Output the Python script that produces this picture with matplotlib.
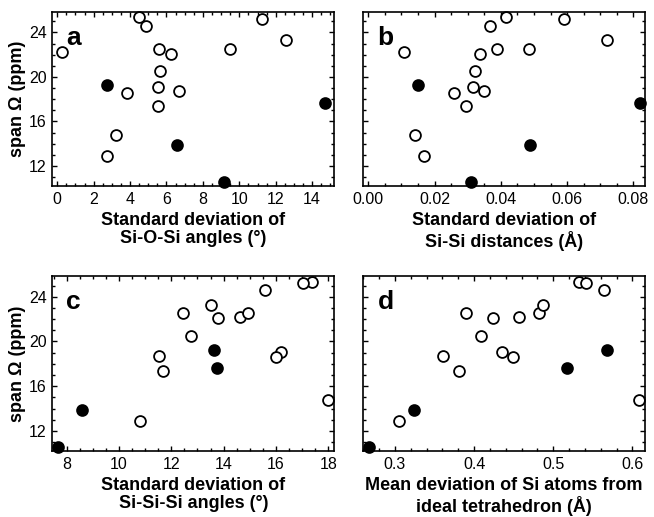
import numpy as np
import matplotlib
matplotlib.use("Agg")
import matplotlib.pyplot as plt
from matplotlib.ticker import MultipleLocator

plt.rcParams['font.family'] = ['Liberation Sans', 'DejaVu Sans']

# span values shared by all four panels
span_open = [22.2, 25.35, 24.6, 22.55, 22.07, 20.5, 19.05, 18.6, 18.72, 17.36,
             14.75, 12.86, 22.55, 25.2, 23.3]
span_fill = [19.25, 13.9, 10.6, 17.66]

# structural parameters for each panel
sio_open = [0.27, 4.5, 4.89, 5.57, 6.24, 5.66, 5.53, 3.84, 6.69, 5.53,
            3.21, 2.74, 9.48, 11.26, 12.54]
sio_fill = [2.72, 6.56, 9.17, 14.7]

sisi_open = [0.0108, 0.0415, 0.0367, 0.0387, 0.0336, 0.0323, 0.0315, 0.0259, 0.035, 0.0294,
             0.014, 0.0169, 0.0485, 0.0592, 0.0719]
sisi_fill = [0.0151, 0.0489, 0.031, 0.082]

sisisi_open = [14.63, 17.37, 15.59, 12.46, 13.77, 12.76, 16.21, 16.02, 11.53, 11.69,
               18.0, 10.8, 14.95, 17.03, 13.51]
sisisi_fill = [13.63, 8.57, 7.68, 13.74]

tet_open = [0.4564, 0.532, 0.564, 0.3894, 0.4235, 0.4087, 0.4357, 0.4496, 0.3607, 0.3806,
            0.6084, 0.3051, 0.4824, 0.5415, 0.4875]
tet_fill = [0.5676, 0.324, 0.267, 0.5178]

panels = [
    ('a', sio_open, sio_fill, (-0.27, 15.2), 2, 0.5,
     'Standard deviation of\nSi-O-Si angles (°)', '{:.0f}'),
    ('b', sisi_open, sisi_fill, (-0.0015, 0.0835), 0.02, 0.005,
     'Standard deviation of\nSi-Si distances (Å)', '{:.2f}'),
    ('c', sisisi_open, sisisi_fill, (7.45, 18.23), 2, 0.5,
     'Standard deviation of\nSi-Si-Si angles (°)', '{:.0f}'),
    ('d', tet_open, tet_fill, (0.26, 0.616), 0.1, 0.02,
     'Mean deviation of Si atoms from\nideal tetrahedron (Å)', '{:.1f}'),
]

W, H = 654, 517
fig = plt.figure(figsize=(W / 100, H / 100), dpi=100)

# axes boxes in pixels: left, top, right, bottom
boxes = [(52.3, 11.7, 334, 186), (363.3, 11.7, 645, 186),
         (52.3, 276, 334.3, 451), (363.3, 276, 645, 451)]

for (letter, xo, xf, xlim, major, minor, xlabel, fmt), (l, t, r, b) in zip(panels, boxes):
    ax = fig.add_axes([l / W, 1 - b / H, (r - l) / W, (b - t) / H])
    ax.plot(xo, span_open, 'o', ms=7.8, mfc='white', mec='black', mew=1.3,
            clip_on=False, zorder=3)
    ax.plot(xf, span_fill, 'o', ms=7.8, mfc='black', mec='black', mew=1.3,
            clip_on=False, zorder=3)
    ax.set_xlim(*xlim)
    ax.set_ylim(10.2, 25.86)

    ax.xaxis.set_major_locator(MultipleLocator(major))
    ax.xaxis.set_minor_locator(MultipleLocator(minor))
    ax.yaxis.set_major_locator(MultipleLocator(4))
    ax.yaxis.set_minor_locator(MultipleLocator(1))
    ax.xaxis.set_major_formatter(plt.FuncFormatter(lambda v, p, f=fmt: f.format(v)))
    ax.tick_params(which='both', direction='in', top=True, right=True,
                   labelsize=11.5, width=1.0, pad=4)
    ax.tick_params(which='major', length=3.5)
    ax.tick_params(which='minor', length=2)
    for s in ax.spines.values():
        s.set_linewidth(1.2)

    ax.set_xlabel(xlabel, fontsize=13, fontweight='bold', linespacing=1.1, labelpad=4)
    if letter in ('a', 'c'):
        ax.set_ylabel('span Ω (ppm)', fontsize=13, fontweight='bold', labelpad=2)
    else:
        ax.tick_params(labelleft=False)
    ax.text(0.05, 0.92, letter, transform=ax.transAxes, fontsize=19,
            fontweight='bold', va='top', ha='left')

fig.savefig('out.png', dpi=100)
